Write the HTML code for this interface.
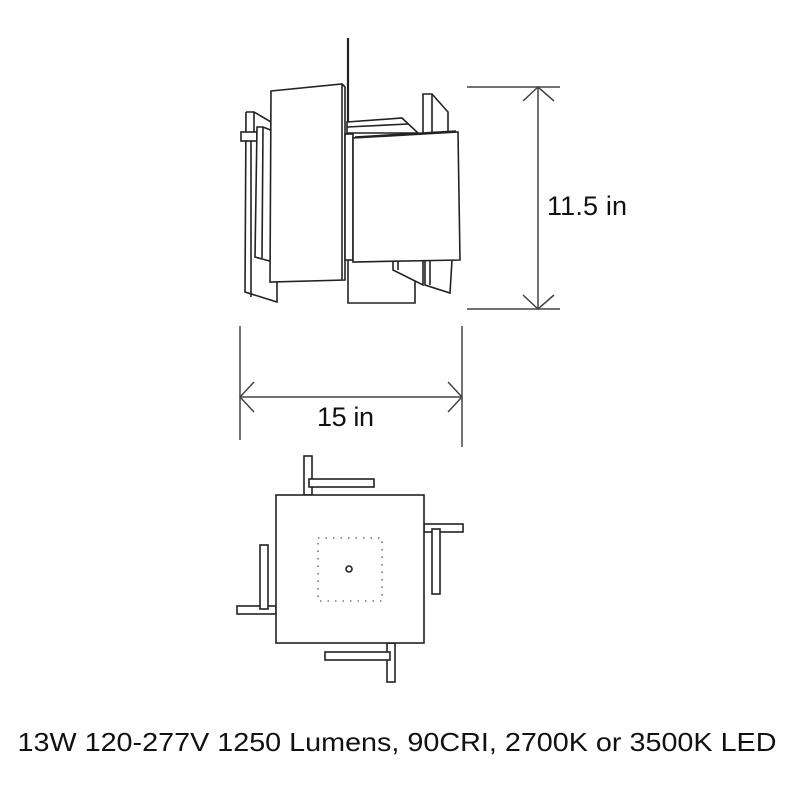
<!DOCTYPE html>
<html><head><style>
body{margin:0;background:#fff;width:800px;height:800px;overflow:hidden}
svg{display:block}
text{font-family:"Liberation Sans",Arial,sans-serif;fill:#111}
</style></head><body>
<svg width="800" height="800" viewBox="0 0 800 800" fill="none" stroke="#222" stroke-width="1.6">
<line x1="348" y1="38" x2="348" y2="124" stroke-width="2.2"/>
<polyline points="246,112 254,112 271,122"/>
<polyline points="246,112 245,292 277,302 277,282"/>
<line x1="254" y1="112" x2="254" y2="132"/>
<line x1="251" y1="141" x2="251" y2="297"/>
<rect x="241" y="132" width="16" height="9" fill="#fff"/>
<polygon points="257,127 263,127 273,131 273,262 255,257" fill="#fff"/>
<line x1="263" y1="127" x2="262" y2="258"/>
<polygon points="347,122 402,118 418,133 347,133" fill="#fff"/>
<line x1="347" y1="127" x2="408" y2="124"/>
<polygon points="423,94 432,94 448,112 448,134 423,134" fill="#fff"/>
<line x1="432" y1="94" x2="432" y2="134"/>
<polygon points="348,258 348,303 415,303 415,258" fill="#fff"/>
<polygon points="393,260 393,270 423,285 423,260" fill="#fff"/>
<polygon points="425,260 425,285 450,293 452,260" fill="#fff"/>
<line x1="398" y1="260" x2="398" y2="270"/>
<line x1="430" y1="260" x2="430" y2="285"/>
<polygon points="271,91 342,84 345,87 345,280 270,282" fill="#fff"/>
<line x1="342" y1="84" x2="342" y2="280"/>
<rect x="345" y="134" width="8" height="126" fill="#fff"/>
<polygon points="353,138 458,132 460,260 353,262" fill="#fff"/>
<line x1="355" y1="137" x2="456" y2="131"/>
<g stroke="#444" stroke-width="1.5">
<line x1="467" y1="87" x2="560" y2="87"/>
<line x1="467" y1="309" x2="560" y2="309"/>
<line x1="538" y1="87" x2="538" y2="309"/>
<polyline points="523,101 538,87 554,101"/>
<polyline points="523,295 538,309 554,295"/>
<line x1="240" y1="326" x2="240" y2="440"/>
<line x1="462" y1="326" x2="462" y2="447"/>
<line x1="240" y1="397" x2="462" y2="397"/>
<polyline points="254,382 240,397 254,412"/>
<polyline points="448,382 462,397 448,412"/>
</g>
<rect x="304" y="456" width="8" height="39" fill="#fff"/>
<rect x="309" y="479" width="65" height="8" fill="#fff"/>
<rect x="424" y="524" width="39" height="8" fill="#fff"/>
<rect x="432" y="529" width="8" height="65" fill="#fff"/>
<rect x="237" y="606" width="39" height="8" fill="#fff"/>
<rect x="260" y="545" width="8" height="64" fill="#fff"/>
<rect x="387" y="643" width="8" height="39" fill="#fff"/>
<rect x="325" y="652" width="65" height="8" fill="#fff"/>
<rect x="276" y="495" width="148" height="148" fill="#fff"/>
<rect x="318" y="538" width="64" height="63" stroke="#777" stroke-dasharray="1.5 6"/>
<circle cx="349" cy="569" r="3"/>
</svg>
<svg width="800" height="800" style="position:absolute;left:0;top:0" viewBox="0 0 800 800">
<text x="547" y="215" font-size="27" textLength="80">11.5 in</text>
<text x="317" y="426" font-size="27" textLength="57">15 in</text>
<text x="397" y="751" font-size="26" text-anchor="middle" textLength="759" lengthAdjust="spacingAndGlyphs">13W 120-277V 1250 Lumens, 90CRI, 2700K or 3500K LED</text>
</svg>
</body></html>
